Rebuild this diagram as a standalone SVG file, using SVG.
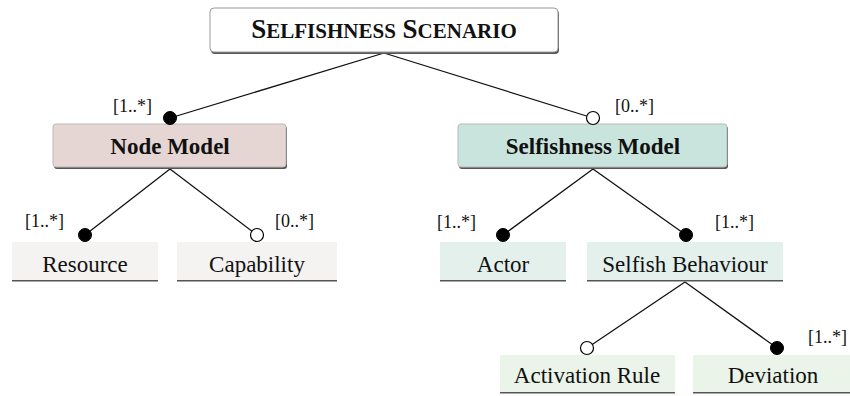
<svg xmlns="http://www.w3.org/2000/svg" width="850" height="396" viewBox="0 0 850 396">
<style>
text{font-family:"Liberation Serif","Times New Roman",serif;fill:#111;text-anchor:middle}
.t{font-weight:bold}
.b{font-size:23px;font-weight:bold}
.r{font-size:23px}
.m{font-size:18px;text-anchor:start}
.ln{stroke:#111;stroke-width:1.3;fill:none}
.f{fill:#000;stroke:#000;stroke-width:1}
.o{fill:#fff;stroke:#000;stroke-width:1.2}
.sh{fill:#555}
</style>
<rect width="850" height="396" fill="#fff"/>
<g id="connectors">
<line class="ln" x1="384" y1="53" x2="170" y2="118"/>
<line class="ln" x1="384" y1="53" x2="593" y2="118"/>
<line class="ln" x1="170" y1="169" x2="85" y2="235"/>
<line class="ln" x1="170" y1="169" x2="257" y2="235"/>
<line class="ln" x1="593" y1="169" x2="503" y2="235"/>
<line class="ln" x1="593" y1="169" x2="686" y2="235"/>
<line class="ln" x1="685" y1="282" x2="587" y2="348"/>
<line class="ln" x1="685" y1="282" x2="777" y2="348"/>
</g>
<g id="scenario">
<rect x="211" y="10" width="348" height="44" rx="4" class="sh"/>
<rect x="210" y="8" width="348" height="44" rx="4" fill="#fff" stroke="#999" stroke-width="1"/>
<text x="384" y="38" class="t"><tspan font-size="27">S</tspan><tspan font-size="21">ELFISHNESS</tspan><tspan font-size="27"> S</tspan><tspan font-size="21">CENARIO</tspan></text>
</g>
<g id="node-model">
<rect x="54" y="126" width="233" height="43" rx="3" class="sh"/>
<rect x="53" y="124" width="233" height="43" rx="3" fill="#e5d5d3" stroke="#bbb" stroke-width="1"/>
<text x="170" y="154" class="b">Node Model</text>
<circle cx="170" cy="118" r="6.5" class="f"/>
<text x="113" y="112" class="m">[1..*]</text>
</g>
<g id="selfishness-model">
<rect x="459" y="126" width="269" height="43" rx="3" class="sh"/>
<rect x="458" y="124" width="269" height="43" rx="3" fill="#c9e4dc" stroke="#bbb" stroke-width="1"/>
<text x="593" y="154" class="b">Selfishness Model</text>
<circle cx="593" cy="118" r="6.5" class="o"/>
<text x="615" y="112" class="m">[0..*]</text>
</g>
<g id="resource">
<rect x="12" y="242" width="146" height="39" fill="#f4f3f1"/>
<rect x="12" y="280" width="146" height="1.5" class="sh"/>
<text x="85" y="272" class="r">Resource</text>
<circle cx="85" cy="235" r="6.5" class="f"/>
<text x="25" y="227" class="m">[1..*]</text>
</g>
<g id="capability">
<rect x="177" y="242" width="160" height="39" fill="#f4f3f1"/>
<rect x="177" y="280" width="160" height="1.5" class="sh"/>
<text x="257" y="272" class="r">Capability</text>
<circle cx="257" cy="235" r="6.5" class="o"/>
<text x="275" y="227" class="m">[0..*]</text>
</g>
<g id="actor">
<rect x="440" y="242" width="126" height="39" fill="#e3f0ec"/>
<rect x="440" y="280" width="126" height="1.5" class="sh"/>
<text x="503" y="272" class="r">Actor</text>
<circle cx="503" cy="235" r="6.5" class="f"/>
<text x="437" y="228" class="m">[1..*]</text>
</g>
<g id="selfish-behaviour">
<rect x="587" y="242" width="196" height="39" fill="#e3f0ec"/>
<rect x="587" y="280" width="196" height="1.5" class="sh"/>
<text x="685" y="272" class="r">Selfish Behaviour</text>
<circle cx="686" cy="235" r="6.5" class="f"/>
<text x="715" y="228" class="m">[1..*]</text>
</g>
<g id="activation-rule">
<rect x="500" y="355" width="175" height="38" fill="#eaf4e8"/>
<rect x="500" y="392" width="175" height="1.5" class="sh"/>
<text x="587" y="383" class="r">Activation Rule</text>
<circle cx="587" cy="348" r="6.5" class="o"/>
</g>
<g id="deviation">
<rect x="693" y="355" width="162" height="38" fill="#eaf4e8"/>
<rect x="693" y="392" width="162" height="1.5" class="sh"/>
<text x="773" y="383" class="r">Deviation</text>
<circle cx="777" cy="348" r="6.5" class="f"/>
<text x="808" y="343" class="m">[1..*]</text>
</g>
</svg>
